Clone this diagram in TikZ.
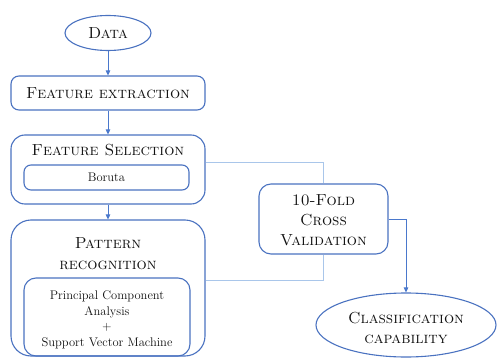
\documentclass[tikz,border=0pt]{standalone}
\usetikzlibrary{shapes.geometric,arrows.meta}
\definecolor{boxblue}{HTML}{4A72C0}
\definecolor{lineblue}{HTML}{A9C6EA}
\definecolor{arrblue}{HTML}{4A78CC}
\definecolor{txt}{HTML}{111111}
\begin{document}
\begin{tikzpicture}[x=1pt,y=-1pt,
  box/.style={draw=boxblue,line width=1.1pt,rounded corners=#1,inner sep=0pt},
  box/.default=8pt,
  ell/.style={draw=boxblue,line width=1.1pt,ellipse,inner sep=0pt},
  big/.style={text=txt,font=\fontsize{16}{20}\selectfont,align=center,inner sep=0pt},
  small/.style={text=txt,font=\fontsize{12.5}{15.5}\selectfont,align=center,inner sep=0pt},
  arr/.style={draw=arrblue,line width=0.8pt,-{Triangle[length=5pt,width=4.5pt]}},
  conn/.style={draw=lineblue,line width=1pt}]
\useasboundingbox (0,0) rectangle (497,358);
\node[ell,minimum width=86pt,minimum height=35pt] (data) at (108,33) {};
\node[big] (datat) at (108,33) {\textsc{Data}};
\node[box=8pt,minimum width=194pt,minimum height=34pt] (fe) at (108,93) {};
\node[big] (fet) at (108,93) {\textsc{Feature extraction}};
\node[box=14pt,minimum width=194pt,minimum height=69pt] (fs) at (108,169.5) {};
\node[big] (fst) at (108,150) {\textsc{Feature Selection}};
\node[box=7pt,minimum width=165pt,minimum height=25pt] (bor) at (106.5,177.5) {};
\node[small] (bort) at (106.5,177.5) {Boruta};
\node[box=20pt,minimum width=194pt,minimum height=136pt] (pr) at (108,288) {};
\node[big,text width=180pt] (prt) at (108,253.5) {\textsc{Pattern}\\[1pt]\textsc{recognition}};
\node[box=12pt,minimum width=166pt,minimum height=78pt] (pca) at (107,317) {};
\node[small] (pcat) at (107,320) {Principal Component\\Analysis\\+\\Support Vector Machine};
\node[box=12pt,minimum width=129pt,minimum height=70pt] (cv) at (323.5,219) {};
\node[big] (cvt) at (323.5,220) {\textsc{10-Fold}\\\textsc{Cross}\\\textsc{Validation}};
\node[ell,minimum width=180pt,minimum height=64pt] (cls) at (406,325) {};
\node[big] (clst) at (406,328) {\textsc{Classification}\\\textsc{capability}};
\draw[arr] (data.south) -- (fe.north);
\draw[arr] (fe.south) -- (fs.north);
\draw[arr] (fs.south) -- (pr.north);
\draw[conn] ([yshift=7.5pt]fs.east) -| (cv.north);
\draw[conn] ([yshift=8pt]pr.east) -| (cv.south);
\draw[arr] (cv.east) -| (cls.north);
\end{tikzpicture}
\end{document}
